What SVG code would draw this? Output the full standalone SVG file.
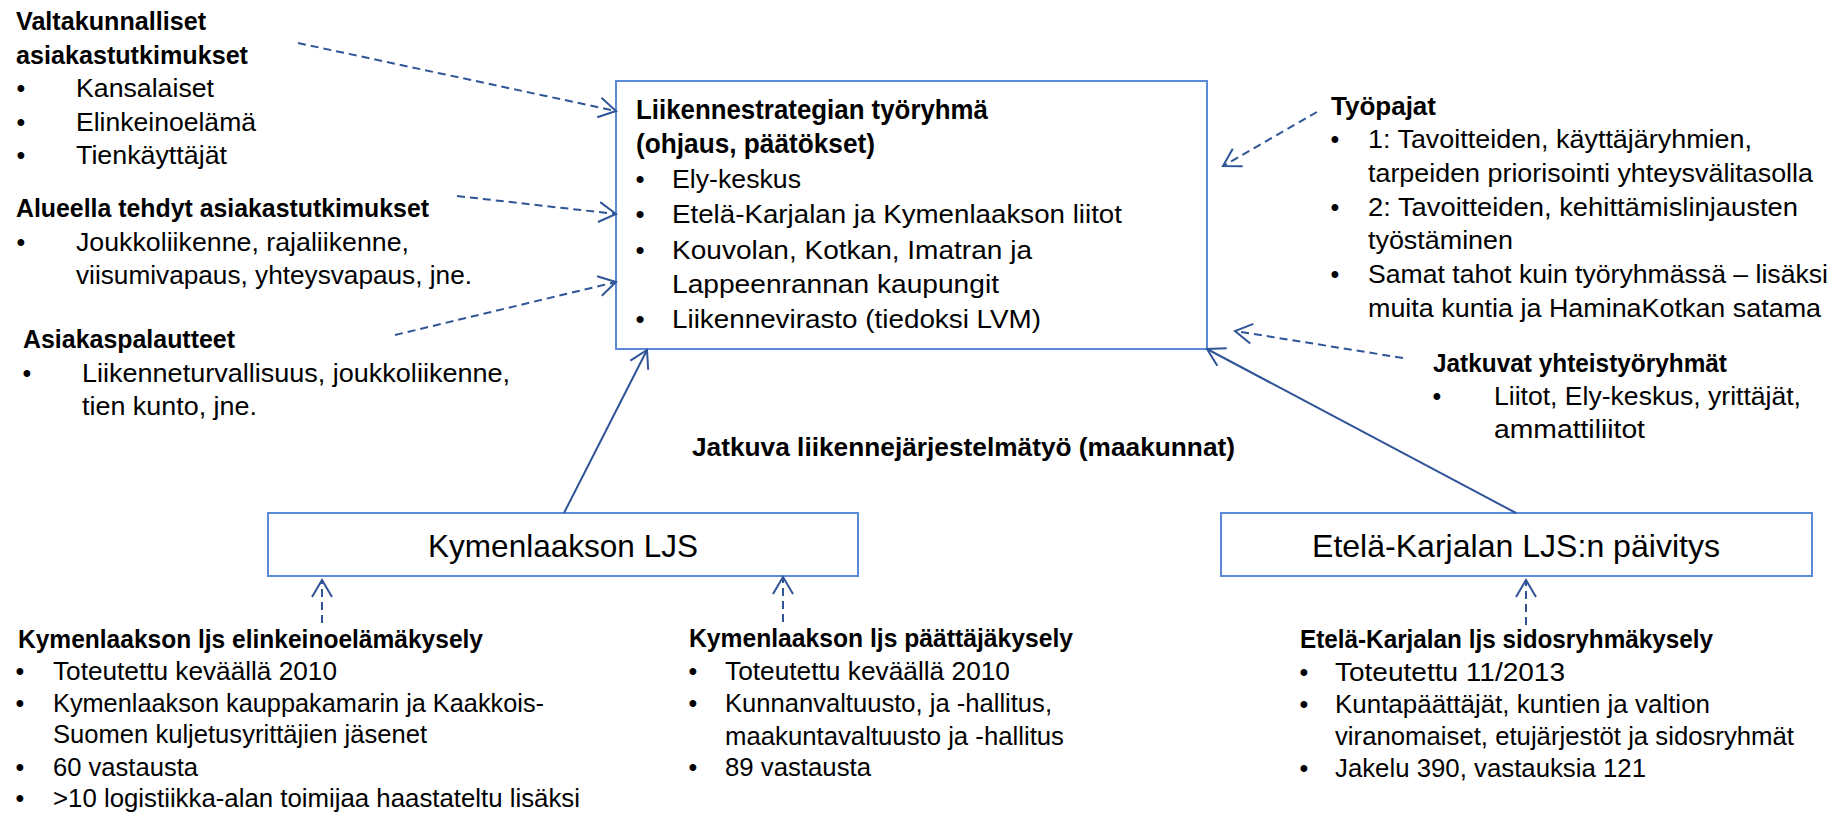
<svg xmlns="http://www.w3.org/2000/svg" width="1841" height="814" viewBox="0 0 1841 814">
<defs>
<style>
.t{font-family:"Liberation Sans",Arial,sans-serif;fill:#000}
.r{font-size:25px}
.b{font-size:25px;font-weight:bold}
.mb{font-size:27px;font-weight:bold}
.mr{font-size:26px}
.lbl{font-size:32px;text-anchor:middle}
.bul{text-anchor:middle}
.box{fill:#fff;stroke:#5B8BD7;stroke-width:2}
.dash{stroke:#2F5597;stroke-width:2;stroke-dasharray:8 5;fill:none;marker-end:url(#ah)}
.solid{stroke:#2F5597;stroke-width:2;fill:none;marker-end:url(#ah)}
</style>
<marker id="ah" markerUnits="userSpaceOnUse" orient="auto" viewBox="-2 -12 22 24" refX="17" refY="0" markerWidth="22" markerHeight="24">
<path d="M0,-10 L17,0 L0,10" fill="none" stroke="#2F5597" stroke-width="2"/>
</marker>
</defs>
<rect width="1841" height="814" fill="#fff"/>

<g id="node-valtakunnalliset" class="t">
<text class="b" x="16" y="30" textLength="190" lengthAdjust="spacingAndGlyphs">Valtakunnalliset</text>
<text class="b" x="16" y="64" textLength="232" lengthAdjust="spacingAndGlyphs">asiakastutkimukset</text>
<text class="r bul" x="21" y="97">•</text>
<text class="r" x="76" y="97" textLength="138" lengthAdjust="spacingAndGlyphs">Kansalaiset</text>
<text class="r bul" x="21" y="131">•</text>
<text class="r" x="76" y="131" textLength="180" lengthAdjust="spacingAndGlyphs">Elinkeinoelämä</text>
<text class="r bul" x="21" y="164">•</text>
<text class="r" x="76" y="164" textLength="151" lengthAdjust="spacingAndGlyphs">Tienkäyttäjät</text>
</g>

<g id="node-alueella" class="t">
<text class="b" x="16" y="217" textLength="413" lengthAdjust="spacingAndGlyphs">Alueella tehdyt asiakastutkimukset</text>
<text class="r bul" x="21" y="251">•</text>
<text class="r" x="76" y="251" textLength="333" lengthAdjust="spacingAndGlyphs">Joukkoliikenne, rajaliikenne,</text>
<text class="r" x="76" y="284" textLength="396" lengthAdjust="spacingAndGlyphs">viisumivapaus, yhteysvapaus, jne.</text>
</g>

<g id="node-asiakaspalautteet" class="t">
<text class="b" x="23" y="348" textLength="212" lengthAdjust="spacingAndGlyphs">Asiakaspalautteet</text>
<text class="r bul" x="27" y="382">•</text>
<text class="r" x="82" y="382" textLength="428" lengthAdjust="spacingAndGlyphs">Liikenneturvallisuus, joukkoliikenne,</text>
<text class="r" x="82" y="415" textLength="175" lengthAdjust="spacingAndGlyphs">tien kunto, jne.</text>
</g>

<g id="node-tyoryhma">
<rect class="box" x="616" y="81" width="591" height="268"/>
<g class="t">
<text class="mb" x="636" y="119" textLength="352" lengthAdjust="spacingAndGlyphs">Liikennestrategian työryhmä</text>
<text class="mb" x="636" y="153" textLength="239" lengthAdjust="spacingAndGlyphs">(ohjaus, päätökset)</text>
<text class="mr bul" x="640" y="188">•</text>
<text class="mr" x="672" y="188" textLength="129" lengthAdjust="spacingAndGlyphs">Ely-keskus</text>
<text class="mr bul" x="640" y="223">•</text>
<text class="mr" x="672" y="223" textLength="450" lengthAdjust="spacingAndGlyphs">Etelä-Karjalan ja Kymenlaakson liitot</text>
<text class="mr bul" x="640" y="259">•</text>
<text class="mr" x="672" y="259" textLength="360" lengthAdjust="spacingAndGlyphs">Kouvolan, Kotkan, Imatran ja</text>
<text class="mr" x="672" y="293" textLength="327" lengthAdjust="spacingAndGlyphs">Lappeenrannan kaupungit</text>
<text class="mr bul" x="640" y="328">•</text>
<text class="mr" x="672" y="328" textLength="369" lengthAdjust="spacingAndGlyphs">Liikennevirasto (tiedoksi LVM)</text>
</g>
</g>

<g id="node-tyopajat" class="t">
<text class="b" x="1331" y="115" textLength="105" lengthAdjust="spacingAndGlyphs">Työpajat</text>
<text class="r bul" x="1335" y="148">•</text>
<text class="r" x="1368" y="148" textLength="384" lengthAdjust="spacingAndGlyphs">1: Tavoitteiden, käyttäjäryhmien,</text>
<text class="r" x="1368" y="182" textLength="445" lengthAdjust="spacingAndGlyphs">tarpeiden priorisointi yhteysvälitasolla</text>
<text class="r bul" x="1335" y="216">•</text>
<text class="r" x="1368" y="216" textLength="430" lengthAdjust="spacingAndGlyphs">2: Tavoitteiden, kehittämislinjausten</text>
<text class="r" x="1368" y="249" textLength="145" lengthAdjust="spacingAndGlyphs">työstäminen</text>
<text class="r bul" x="1335" y="283">•</text>
<text class="r" x="1368" y="283" textLength="460" lengthAdjust="spacingAndGlyphs">Samat tahot kuin työryhmässä – lisäksi</text>
<text class="r" x="1368" y="317" textLength="453" lengthAdjust="spacingAndGlyphs">muita kuntia ja HaminaKotkan satama</text>
</g>

<g id="node-jatkuvat-yhteistyoryhmat" class="t">
<text class="b" x="1433" y="372" textLength="294" lengthAdjust="spacingAndGlyphs">Jatkuvat yhteistyöryhmät</text>
<text class="r bul" x="1437" y="405">•</text>
<text class="r" x="1494" y="405" textLength="307" lengthAdjust="spacingAndGlyphs">Liitot, Ely-keskus, yrittäjät,</text>
<text class="r" x="1494" y="438" textLength="151" lengthAdjust="spacingAndGlyphs">ammattiliitot</text>
</g>

<g id="node-jatkuva-ljs-tyo" class="t">
<text class="b" x="692" y="456" textLength="543" lengthAdjust="spacingAndGlyphs">Jatkuva liikennejärjestelmätyö (maakunnat)</text>
</g>

<g id="node-kymenlaakson-ljs">
<rect class="box" x="268" y="513" width="590" height="63"/>
<text class="t lbl" x="563" y="557" textLength="270" lengthAdjust="spacingAndGlyphs">Kymenlaakson LJS</text>
</g>

<g id="node-etela-karjalan-ljs">
<rect class="box" x="1221" y="513" width="591" height="63"/>
<text class="t lbl" x="1516" y="557" textLength="408" lengthAdjust="spacingAndGlyphs">Etelä-Karjalan LJS:n päivitys</text>
</g>

<g id="node-elinkeinoelamakysely" class="t">
<text class="b" x="18" y="648" textLength="465" lengthAdjust="spacingAndGlyphs">Kymenlaakson ljs elinkeinoelämäkysely</text>
<text class="r bul" x="20" y="680">•</text>
<text class="r" x="53" y="680" textLength="284" lengthAdjust="spacingAndGlyphs">Toteutettu keväällä 2010</text>
<text class="r bul" x="20" y="712">•</text>
<text class="r" x="53" y="712" textLength="491" lengthAdjust="spacingAndGlyphs">Kymenlaakson kauppakamarin ja Kaakkois-</text>
<text class="r" x="53" y="743" textLength="374" lengthAdjust="spacingAndGlyphs">Suomen kuljetusyrittäjien jäsenet</text>
<text class="r bul" x="20" y="776">•</text>
<text class="r" x="53" y="776" textLength="145" lengthAdjust="spacingAndGlyphs">60 vastausta</text>
<text class="r bul" x="20" y="807">•</text>
<text class="r" x="53" y="807" textLength="527" lengthAdjust="spacingAndGlyphs">&gt;10 logistiikka-alan toimijaa haastateltu lisäksi</text>
</g>

<g id="node-paattajakysely" class="t">
<text class="b" x="689" y="647" textLength="384" lengthAdjust="spacingAndGlyphs">Kymenlaakson ljs päättäjäkysely</text>
<text class="r bul" x="693" y="680">•</text>
<text class="r" x="725" y="680" textLength="285" lengthAdjust="spacingAndGlyphs">Toteutettu keväällä 2010</text>
<text class="r bul" x="693" y="712">•</text>
<text class="r" x="725" y="712" textLength="327" lengthAdjust="spacingAndGlyphs">Kunnanvaltuusto, ja -hallitus,</text>
<text class="r" x="725" y="745" textLength="339" lengthAdjust="spacingAndGlyphs">maakuntavaltuusto ja -hallitus</text>
<text class="r bul" x="693" y="776">•</text>
<text class="r" x="725" y="776" textLength="146" lengthAdjust="spacingAndGlyphs">89 vastausta</text>
</g>

<g id="node-sidosryhmakysely" class="t">
<text class="b" x="1300" y="648" textLength="413" lengthAdjust="spacingAndGlyphs">Etelä-Karjalan ljs sidosryhmäkysely</text>
<text class="r bul" x="1304" y="681">•</text>
<text class="r" x="1335" y="681" textLength="230" lengthAdjust="spacingAndGlyphs">Toteutettu 11/2013</text>
<text class="r bul" x="1304" y="713">•</text>
<text class="r" x="1335" y="713" textLength="375" lengthAdjust="spacingAndGlyphs">Kuntapäättäjät, kuntien ja valtion</text>
<text class="r" x="1335" y="745" textLength="459" lengthAdjust="spacingAndGlyphs">viranomaiset, etujärjestöt ja sidosryhmät</text>
<text class="r bul" x="1304" y="777">•</text>
<text class="r" x="1335" y="777" textLength="311" lengthAdjust="spacingAndGlyphs">Jakelu 390, vastauksia 121</text>
</g>

<g id="connectors">
<line class="dash" x1="298" y1="43" x2="616" y2="111"/>
<line class="dash" x1="457" y1="196" x2="616" y2="214"/>
<line class="dash" x1="395" y1="335" x2="616" y2="282"/>
<line class="dash" x1="1317" y1="112" x2="1223" y2="166"/>
<line class="dash" x1="1403" y1="358" x2="1235" y2="331"/>
<line class="dash" x1="322" y1="623" x2="322" y2="580"/>
<line class="dash" x1="783" y1="622" x2="783" y2="577"/>
<line class="dash" x1="1526" y1="625" x2="1526" y2="580"/>
<line class="solid" x1="564" y1="513" x2="647" y2="350"/>
<line class="solid" x1="1516" y1="513" x2="1207" y2="349"/>
</g>
</svg>
